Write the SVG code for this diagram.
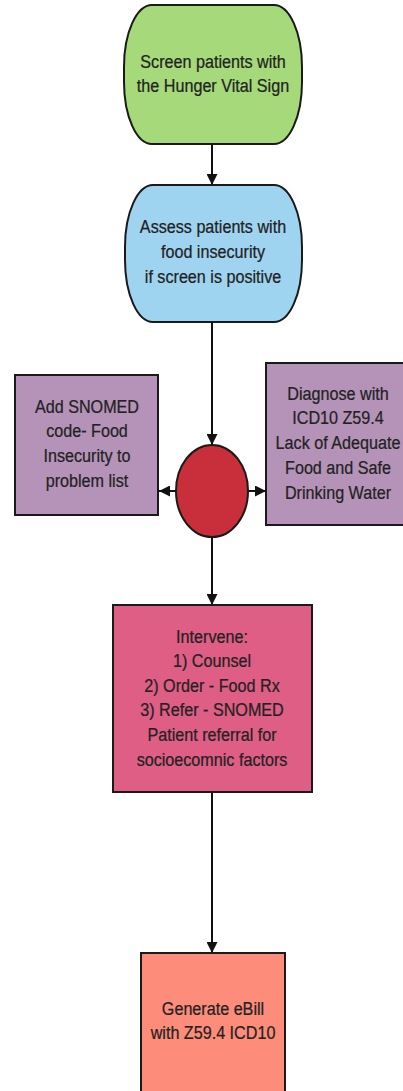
<svg xmlns="http://www.w3.org/2000/svg" width="403" height="1091" viewBox="0 0 403 1091">
<defs>
<style>
.n{stroke:#1a1a1a;stroke-width:2}
.t{font-family:"Liberation Sans",Arial,sans-serif;font-size:19px;fill:#222;text-anchor:middle;stroke:#222;stroke-width:0.25}
.c{stroke:#111;stroke-width:2;fill:none}
</style>
<marker id="ah" viewBox="0 0 10 10" refX="10" refY="5" markerWidth="5.5" markerHeight="5.5" orient="auto" markerUnits="strokeWidth">
<path d="M0,0 L10,5 L0,10 z" fill="#111"/>
</marker>
</defs>
<rect width="403" height="1091" fill="#fff"/>
<g id="connectors">
<line class="c" x1="212" y1="145" x2="212" y2="185" marker-end="url(#ah)"/>
<line class="c" x1="212" y1="322" x2="212" y2="445" marker-end="url(#ah)"/>
<line class="c" x1="176" y1="491" x2="159" y2="491" marker-end="url(#ah)"/>
<line class="c" x1="248" y1="491" x2="266" y2="491" marker-end="url(#ah)"/>
<line class="c" x1="212" y1="538" x2="212" y2="605" marker-end="url(#ah)"/>
<line class="c" x1="212" y1="792" x2="212" y2="953" marker-end="url(#ah)"/>
</g>
<g id="screen">
<path class="n" fill="#a5d979" d="M152,5 L274,5 A28,62 0 0 1 302,67 L302,82 A28,62 0 0 1 274,144 L152,144 A28,62 0 0 1 124,82 L124,67 A28,62 0 0 1 152,5 Z"/>
<text class="t" transform="translate(213,0) scale(0.85,1)"><tspan x="0" y="68">Screen patients with</tspan><tspan x="0" y="92">the Hunger Vital Sign</tspan></text>
</g>
<g id="assess">
<path class="n" fill="#9fd4f1" d="M153,185 L274,185 A28,62 0 0 1 302,247 L302,260 A28,62 0 0 1 274,322 L153,322 A28,62 0 0 1 125,260 L125,247 A28,62 0 0 1 153,185 Z"/>
<text class="t" transform="translate(213,0) scale(0.85,1)"><tspan x="0" y="233">Assess patients with</tspan><tspan x="0" y="258">food insecurity</tspan><tspan x="0" y="283">if screen is positive</tspan></text>
</g>
<g id="snomed">
<rect class="n" fill="#b593b8" x="15" y="375" width="143" height="140"/>
<text class="t" transform="translate(87,0) scale(0.85,1)"><tspan x="0" y="413">Add SNOMED</tspan><tspan x="0" y="437">code- Food</tspan><tspan x="0" y="462">Insecurity to</tspan><tspan x="0" y="487">problem list</tspan></text>
</g>
<g id="decision">
<ellipse class="n" fill="#c92f3a" cx="212" cy="491" rx="36" ry="46"/>
</g>
<g id="diagnose">
<rect class="n" fill="#b593b8" x="266" y="363" width="145" height="162"/>
<text class="t" transform="translate(338,0) scale(0.85,1)"><tspan x="0" y="400">Diagnose with</tspan><tspan x="0" y="424">ICD10 Z59.4</tspan><tspan x="0" y="449">Lack of Adequate</tspan><tspan x="0" y="474">Food and Safe</tspan><tspan x="0" y="499">Drinking Water</tspan></text>
</g>
<g id="intervene">
<rect class="n" fill="#de5e86" x="113" y="605" width="199" height="187"/>
<text class="t" transform="translate(212,0) scale(0.85,1)"><tspan x="0" y="643">Intervene:</tspan><tspan x="0" y="667">1) Counsel</tspan><tspan x="0" y="692">2) Order - Food Rx</tspan><tspan x="0" y="716">3) Refer - SNOMED</tspan><tspan x="0" y="741">Patient referral for</tspan><tspan x="0" y="766">socioecomnic factors</tspan></text>
</g>
<g id="ebill">
<rect class="n" fill="#fd8c7b" x="141" y="953" width="144" height="145"/>
<text class="t" transform="translate(213,0) scale(0.85,1)"><tspan x="0" y="1015">Generate eBill</tspan><tspan x="0" y="1039">with Z59.4 ICD10</tspan></text>
</g>
</svg>
